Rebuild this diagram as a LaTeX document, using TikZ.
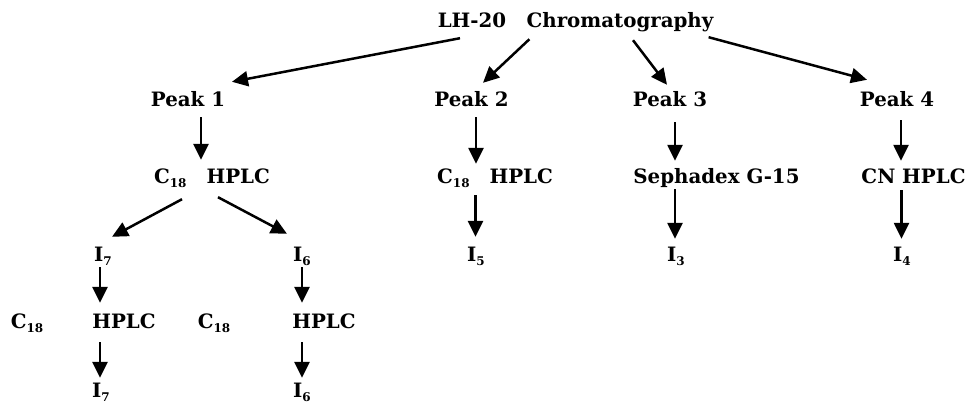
\documentclass[tikz,border=0pt]{standalone}
\usepackage{fontspec}
\setmainfont{DejaVu Serif}
\usetikzlibrary{arrows.meta,calc}
\newcommand\mysub[1]{\raisebox{-0.4ex}{\fontsize{12}{12}\selectfont #1}}
\begin{document}
\begin{tikzpicture}[x=1pt,y=-1pt,
  lbl/.style={inner sep=0pt,text height=15pt,text depth=5pt,font=\bfseries\fontsize{19.8}{22}\selectfont,anchor=base},
  arr/.style={line width=2.5pt,-{Triangle[length=16pt,width=15pt]}}]
\useasboundingbox (0,0) rectangle (971,413);
% top
\node[lbl] (lh) at (472,27) {LH-20};
\node[lbl] (chrom) at (620,27) {Chromatography};
% peaks
\node[lbl] (p1) at (188,106) {Peak 1};
\node[lbl] (p2) at (471.5,106) {Peak 2};
\node[lbl] (p3) at (670,106) {Peak 3};
\node[lbl] (p4) at (897,106) {Peak 4};
% level 3
\node[lbl] (h1) at (212,183) {C\mysub{18}\hspace{20pt}HPLC};
\node[lbl] (h2) at (495,183) {C\mysub{18}\hspace{20pt}HPLC};
\node[lbl] (h3) at (716.5,183) {Sephadex G-15};
\node[lbl] (h4) at (913.5,183) {CN HPLC};
% level 4
\node[lbl] (i7) at (103,261) {I\mysub{7}};
\node[lbl] (i6) at (302,261) {I\mysub{6}};
\node[lbl] (i5) at (476,261) {I\mysub{5}};
\node[lbl] (i3) at (676,261) {I\mysub{3}};
\node[lbl] (i4) at (902,261) {I\mysub{4}};
% level 5
\node[lbl] (c1) at (27,328) {C\mysub{18}};
\node[lbl] (hp1) at (124,328) {HPLC};
\node[lbl] (c2) at (214,328) {C\mysub{18}};
\node[lbl] (hp2) at (324,328) {HPLC};
% level 6
\node[lbl] (j7) at (101,397) {I\mysub{7}};
\node[lbl] (j6) at (302,397) {I\mysub{6}};
% arrows from top
\draw[arr] ([xshift=-12pt,yshift=-6pt]lh.south) -- ([xshift=44pt,yshift=9pt]p1.north);
\draw[arr] ([xshift=3pt,yshift=-7pt]chrom.south west) -- ([xshift=11.5pt,yshift=8pt]p2.north);
\draw[arr] ([xshift=13pt,yshift=-8pt]chrom.south) -- ([xshift=-3pt,yshift=6pt]p3.north);
\draw[arr] ([xshift=-5pt,yshift=-5pt]chrom.south east) -- ([xshift=-30pt,yshift=11pt]p4.north);
% verticals
\draw[arr] ([xshift=13pt,yshift=-6pt]p1.south) -- ([xshift=-11pt,yshift=8pt]h1.north);
\draw[arr] ([xshift=4.5pt,yshift=-6pt]p2.south) -- ([xshift=-19pt,yshift=4pt]h2.north);
\draw[arr] ([xshift=5pt,yshift=-11pt]p3.south) -- ([xshift=-41.5pt,yshift=7pt]h3.north);
\draw[arr] ([xshift=4pt,yshift=-9pt]p4.south) -- ([xshift=-12.5pt,yshift=7pt]h4.north);
\draw[arr] ([xshift=-19.5pt,yshift=-7pt]h2.south) -- ([xshift=-0.5pt,yshift=9pt]i5.north);
\draw[arr] ([xshift=-41.5pt,yshift=-1pt]h3.south) -- ([xshift=-1pt,yshift=7pt]i3.north);
\draw[arr] ([xshift=-12pt,yshift=-2pt]h4.south) -- ([xshift=-0.5pt,yshift=7pt]i4.north);
% diagonal from C18 HPLC
\draw[arr] ([xshift=-30pt,yshift=-11pt]h1.south) -- ([xshift=9pt,yshift=9pt]i7.north);
\draw[arr] ([xshift=6pt,yshift=-9pt]h1.south) -- ([xshift=-15pt,yshift=12pt]i6.north);
% lower verticals
\draw[arr] ([xshift=-3pt,yshift=-1pt]i7.south) -- ([xshift=-24pt,yshift=10pt]hp1.north);
\draw[arr] ([xshift=-24pt,yshift=-9pt]hp1.south) -- ([xshift=-1pt,yshift=4pt]j7.north);
\draw[arr] ([yshift=-1pt]i6.south) -- ([xshift=-22pt,yshift=10pt]hp2.north);
\draw[arr] ([xshift=-22pt,yshift=-9pt]hp2.south) -- ([yshift=4pt]j6.north);
\end{tikzpicture}
\end{document}
